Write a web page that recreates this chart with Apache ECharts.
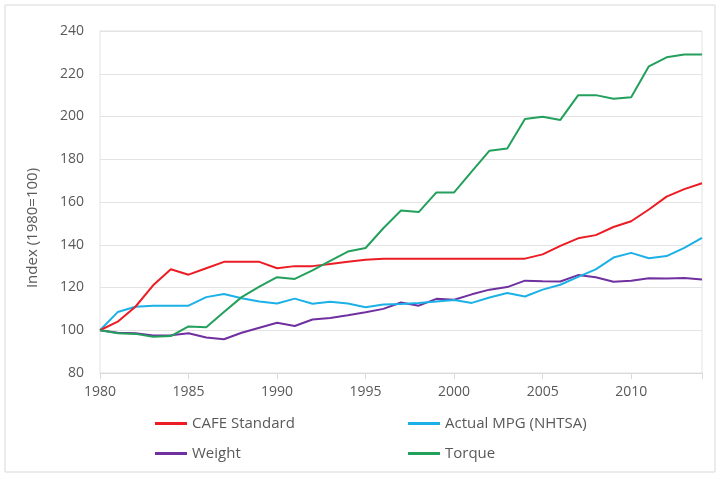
<!DOCTYPE html>
<html>
<head>
<meta charset="utf-8">
<script src="https://cdn.jsdelivr.net/npm/echarts@6/dist/echarts.min.js"></script>
<style>
html,body{margin:0;padding:0;background:#fff;}
#chart{width:721px;height:478px;}
</style>
</head>
<body>
<div id="chart"></div>
<script>
var years = [1980,1981,1982,1983,1984,1985,1986,1987,1988,1989,1990,1991,1992,1993,1994,1995,1996,1997,1998,1999,2000,2001,2002,2003,2004,2005,2006,2007,2008,2009,2010,2011,2012,2013,2014];
var cafe = [100,104,111,121,128.5,126,129,132,132,132,129,130,130,131,132,133,133.5,133.5,133.5,133.5,133.5,133.5,133.5,133.5,133.5,135.5,139.5,143,144.5,148.3,151,156.5,162.5,166,168.8];
var mpg = [100,108.5,111,111.5,111.5,111.5,115.5,117,115,113.5,112.5,114.8,112.4,113.3,112.5,110.8,112,112.3,112.8,113.5,114.2,112.8,115.3,117.4,115.8,119,121.3,125,128.5,134,136.2,133.7,134.7,138.5,143.2];
var weight = [100,98.8,98.6,97.5,97.7,98.6,96.6,95.8,98.8,101.2,103.5,102,105,105.7,107,108.4,110,113,111.5,114.7,114.3,116.8,119,120.2,123.2,122.9,122.8,125.8,124.8,122.7,123.2,124.3,124.2,124.5,123.7];
var torque = [100,98.6,98.3,97,97.3,101.8,101.4,108.5,115.5,120.4,124.8,124,128,132.5,136.8,138.5,147.7,156,155.3,164.5,164.5,174.3,184,185,198.8,199.9,198.4,209.9,210,208.3,209,223.5,227.7,229,229];
var seriesNames = ['CAFE Standard','Actual MPG (NHTSA)','Weight','Torque'];
var colors = ['#ec1c24','#1cb1e6','#7030a0','#23a05c'];
var yTicks = {min:80, max:240, interval:20};
var xTicks = {min:1980, max:2014, interval:5};

function pairs(vals){ return years.map(function(y,i){ return [y, vals[i]]; }); }
var allVals = [cafe, mpg, weight, torque];

var chart = echarts.init(document.getElementById('chart'));
var font = "'Open Sans', 'Noto Sans', sans-serif";
var series = seriesNames.map(function(n,i){
  return {
    name: n, type: 'line', data: pairs(allVals[i]),
    showSymbol: false, symbol: 'none',
    lineStyle: {color: colors[i], width: 2},
    itemStyle: {color: colors[i]},
    z: [3,2,1,4][i]
  };
});
var legendCommon = {
  orient: 'vertical', icon: 'rect', itemWidth: 32, itemHeight: 3,
  itemGap: 13,
  textStyle: {color:'#595959', fontSize: 15, fontFamily: font, lineHeight: 17}
};
chart.setOption({
  animation: false,
  backgroundColor: '#fff',
  grid: {left: 100, right: 19, top: 31, bottom: 105, show: true, borderColor: '#e3e3e3', borderWidth: 1},
  xAxis: {
    type: 'value', min: xTicks.min, max: xTicks.max, interval: xTicks.interval,
    axisLine: {show: true, lineStyle: {color: '#d9d9d9'}},
    axisTick: {show: true, length: 6, lineStyle: {color: '#d9d9d9'}},
    splitLine: {show: false},
    axisLabel: {color: '#595959', fontSize: 14, fontFamily: font, margin: 12,
      formatter: function(v){ return v % xTicks.interval === 0 ? String(v) : ''; }}
  },
  yAxis: {
    type: 'value', min: yTicks.min, max: yTicks.max, interval: yTicks.interval,
    axisLine: {show: false}, axisTick: {show: false},
    splitLine: {lineStyle: {color: '#e3e3e3'}},
    axisLabel: {color: '#595959', fontSize: 14, fontFamily: font, margin: 16}
  },
  legend: [
    Object.assign({left: 150, top: 410, data: [seriesNames[0], seriesNames[2]]}, legendCommon),
    Object.assign({left: 403, top: 410, data: [seriesNames[1], seriesNames[3]]}, legendCommon)
  ],
  graphic: [
    {type: 'rect', shape: {x: 5, y: 5, width: 710, height: 467}, style: {fill: 'none', stroke: '#d9d9d9', lineWidth: 1}, silent: true},
    {type: 'text', x: 33, y: 228, rotation: Math.PI/2,
     style: {text: 'Index (1980=100)', fill: '#595959', font: "15px 'Open Sans', sans-serif", textAlign: 'center', textVerticalAlign: 'middle'}}
  ],
  series: series
});
</script>
</body>
</html>
